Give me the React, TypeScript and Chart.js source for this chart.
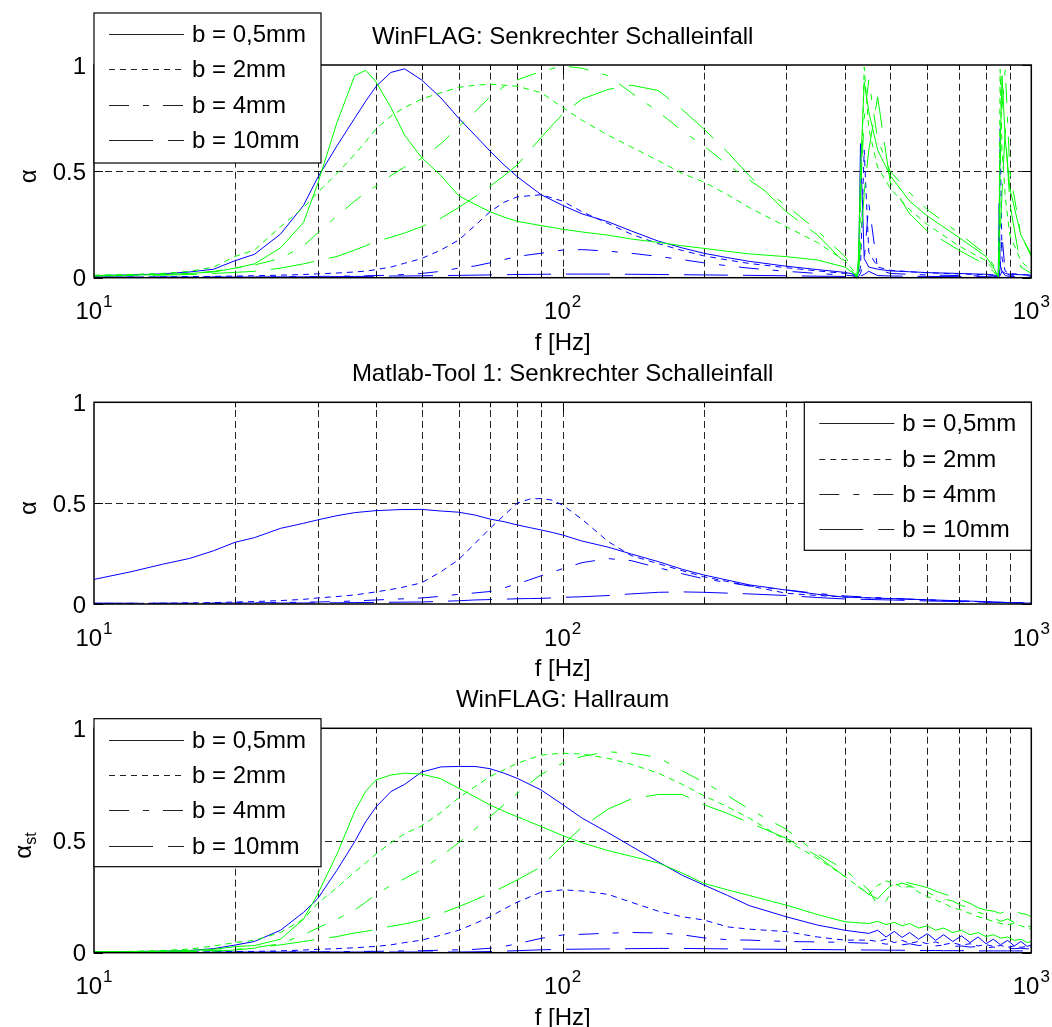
import React, { useEffect, useRef } from "react";
import { Chart, registerables } from "chart.js";

Chart.register(...registerables);

const FONT = '"Liberation Sans", Arial, Helvetica, sans-serif';
const W = 1052;
const H = 1027;

// ---------------- data: panel 1 (WinFLAG, normal incidence) ----------------
const freqP1 = [10, 12, 14, 16, 18, 20, 22, 25, 28, 30, 33, 36, 38, 40, 43, 46, 50, 55, 60, 65, 70, 75, 80, 90, 100, 110, 125, 140, 160, 180, 200, 225, 250, 300, 350, 400, 415, 424, 428, 432, 440, 450, 470, 500, 550, 600, 700, 800, 830, 850, 854, 858, 866, 880, 900, 950, 1000];
const p1BlueB05 = [0.01, 0.013, 0.018, 0.027, 0.04, 0.08, 0.11, 0.205, 0.34, 0.47, 0.62, 0.75, 0.83, 0.9, 0.965, 0.982, 0.93, 0.845, 0.75, 0.67, 0.595, 0.53, 0.475, 0.39, 0.34, 0.3, 0.263, 0.22, 0.172, 0.14, 0.115, 0.094, 0.077, 0.054, 0.038, 0.025, 0.018, 0.008, 0.02, 0.63, 0.09, 0.05, 0.04, 0.032, 0.028, 0.024, 0.02, 0.016, 0.013, 0.008, 0.35, 0.06, 0.03, 0.02, 0.016, 0.014, 0.012];
const p1BlueB2 = [0.003, 0.003, 0.004, 0.005, 0.006, 0.008, 0.009, 0.012, 0.015, 0.018, 0.022, 0.027, 0.031, 0.038, 0.05, 0.068, 0.09, 0.13, 0.177, 0.245, 0.31, 0.355, 0.38, 0.39, 0.36, 0.31, 0.255, 0.205, 0.16, 0.128, 0.103, 0.083, 0.067, 0.047, 0.032, 0.02, 0.014, 0.006, 0.01, 0.05, 0.6, 0.12, 0.05, 0.035, 0.028, 0.023, 0.018, 0.014, 0.011, 0.006, 0.02, 0.7, 0.09, 0.03, 0.02, 0.015, 0.012];
const p1BlueB4 = [0.002, 0.002, 0.002, 0.003, 0.003, 0.003, 0.004, 0.004, 0.005, 0.006, 0.007, 0.008, 0.009, 0.01, 0.012, 0.015, 0.02, 0.03, 0.045, 0.055, 0.07, 0.085, 0.1, 0.115, 0.13, 0.132, 0.125, 0.115, 0.1, 0.085, 0.07, 0.056, 0.045, 0.03, 0.02, 0.012, 0.009, 0.004, 0.006, 0.02, 0.08, 0.35, 0.04, 0.02, 0.016, 0.013, 0.01, 0.008, 0.006, 0.004, 0.008, 0.05, 0.2, 0.02, 0.012, 0.01, 0.008];
const p1BlueB10 = [0.003, 0.003, 0.003, 0.003, 0.003, 0.003, 0.003, 0.004, 0.004, 0.005, 0.005, 0.006, 0.006, 0.007, 0.008, 0.008, 0.009, 0.01, 0.011, 0.012, 0.013, 0.014, 0.015, 0.016, 0.017, 0.017, 0.017, 0.016, 0.015, 0.014, 0.013, 0.012, 0.011, 0.009, 0.007, 0.006, 0.005, 0.003, 0.004, 0.008, 0.015, 0.03, 0.01, 0.008, 0.007, 0.006, 0.005, 0.005, 0.004, 0.003, 0.004, 0.01, 0.03, 0.01, 0.006, 0.005, 0.005];
const p1GreenB05 = [0.01, 0.012, 0.015, 0.02, 0.027, 0.045, 0.065, 0.14, 0.26, 0.44, 0.73, 0.95, 0.975, 0.92, 0.8, 0.67, 0.565, 0.48, 0.385, 0.345, 0.31, 0.285, 0.265, 0.245, 0.228, 0.215, 0.2, 0.182, 0.166, 0.15, 0.138, 0.124, 0.112, 0.099, 0.083, 0.05, 0.025, 0.003, 0.1, 0.5, 0.92, 0.78, 0.6, 0.48, 0.36, 0.29, 0.19, 0.1, 0.05, 0.005, 0.2, 0.6, 0.95, 0.65, 0.42, 0.2, 0.11];
const p1GreenB2 = [0.012, 0.015, 0.02, 0.03, 0.05, 0.1, 0.13, 0.24, 0.33, 0.4, 0.49, 0.58, 0.64, 0.7, 0.76, 0.8, 0.84, 0.87, 0.895, 0.905, 0.91, 0.905, 0.9, 0.87, 0.8, 0.74, 0.67, 0.615, 0.55, 0.49, 0.45, 0.39, 0.33, 0.24, 0.165, 0.08, 0.04, 0.005, 0.05, 0.3, 0.99, 0.7, 0.52, 0.42, 0.32, 0.25, 0.15, 0.08, 0.04, 0.01, 0.3, 0.98, 0.6, 0.38, 0.2, 0.08, 0.03];
const p1GreenB4 = [0.01, 0.012, 0.015, 0.02, 0.03, 0.045, 0.06, 0.09, 0.15, 0.21, 0.29, 0.36, 0.4, 0.43, 0.48, 0.52, 0.56, 0.63, 0.71, 0.78, 0.85, 0.9, 0.93, 0.97, 0.995, 0.985, 0.95, 0.87, 0.78, 0.69, 0.62, 0.53, 0.46, 0.34, 0.22, 0.1, 0.05, 0.004, 0.08, 0.4, 0.75, 0.93, 0.65, 0.5, 0.4, 0.32, 0.21, 0.11, 0.06, 0.01, 0.1, 0.5, 0.8, 0.98, 0.5, 0.2, 0.1];
const p1GreenB10 = [0.008, 0.01, 0.012, 0.015, 0.02, 0.025, 0.03, 0.045, 0.065, 0.08, 0.1, 0.13, 0.15, 0.17, 0.19, 0.21, 0.24, 0.28, 0.33, 0.38, 0.43, 0.48, 0.53, 0.66, 0.77, 0.84, 0.885, 0.905, 0.88, 0.79, 0.7, 0.59, 0.48, 0.31, 0.2, 0.07, 0.03, 0.002, 0.03, 0.15, 0.4, 0.6, 0.85, 0.45, 0.3, 0.22, 0.13, 0.06, 0.03, 0.005, 0.05, 0.2, 0.4, 0.7, 0.35, 0.05, 0.02];

// ---------------- data: panel 2 (Matlab-Tool 1) ----------------
const freqP2 = [10, 12, 14, 16, 18, 20, 22, 25, 28, 30, 33, 36, 40, 45, 50, 55, 60, 65, 70, 75, 80, 85, 90, 95, 100, 110, 125, 140, 160, 180, 200, 250, 300, 350, 400, 500, 600, 700, 800, 900, 1000];
const p2BlueB05 = [0.122, 0.16, 0.197, 0.226, 0.264, 0.306, 0.329, 0.375, 0.4, 0.417, 0.438, 0.453, 0.463, 0.468, 0.469, 0.461, 0.455, 0.441, 0.421, 0.408, 0.392, 0.379, 0.367, 0.355, 0.342, 0.312, 0.282, 0.248, 0.21, 0.172, 0.144, 0.095, 0.069, 0.048, 0.034, 0.027, 0.021, 0.016, 0.012, 0.007, 0.004];
const p2BlueB2 = [0.003, 0.003, 0.004, 0.005, 0.007, 0.01, 0.012, 0.017, 0.023, 0.03, 0.037, 0.045, 0.06, 0.08, 0.105, 0.16, 0.22, 0.3, 0.375, 0.44, 0.5, 0.52, 0.523, 0.515, 0.49, 0.42, 0.31, 0.24, 0.2, 0.165, 0.135, 0.09, 0.053, 0.042, 0.035, 0.027, 0.02, 0.015, 0.01, 0.007, 0.004];
const p2BlueB4 = [0.003, 0.003, 0.003, 0.004, 0.004, 0.005, 0.006, 0.007, 0.009, 0.01, 0.012, 0.015, 0.02, 0.025, 0.03, 0.038, 0.048, 0.055, 0.062, 0.08, 0.1, 0.12, 0.14, 0.158, 0.175, 0.205, 0.225, 0.215, 0.18, 0.15, 0.125, 0.09, 0.07, 0.052, 0.04, 0.028, 0.02, 0.014, 0.01, 0.007, 0.004];
const p2BlueB10 = [0.004, 0.004, 0.004, 0.004, 0.004, 0.005, 0.005, 0.005, 0.005, 0.006, 0.006, 0.007, 0.008, 0.009, 0.01, 0.013, 0.016, 0.02, 0.022, 0.024, 0.026, 0.027, 0.028, 0.03, 0.033, 0.036, 0.042, 0.05, 0.058, 0.06, 0.058, 0.05, 0.042, 0.032, 0.025, 0.02, 0.015, 0.012, 0.009, 0.006, 0.004];

// ---------------- data: panel 3 (WinFLAG, reverberation room) ----------------
const freqP3 = [10, 12, 14, 16, 18, 20, 22, 25, 28, 30, 33, 36, 38, 40, 43, 46, 50, 55, 60, 65, 70, 75, 80, 90, 100, 110, 125, 140, 160, 180, 200, 225, 250, 300, 350, 400, 450, 470, 490, 510, 530, 550, 575, 600, 625, 650, 680, 710, 740, 770, 800, 830, 860, 890, 920, 950, 980, 1000];
const p3BlueB05 = [0.004, 0.005, 0.007, 0.01, 0.018, 0.034, 0.05, 0.1, 0.18, 0.24, 0.368, 0.495, 0.584, 0.65, 0.718, 0.75, 0.805, 0.828, 0.83, 0.83, 0.82, 0.8, 0.777, 0.725, 0.66, 0.6, 0.535, 0.475, 0.405, 0.345, 0.302, 0.255, 0.21, 0.16, 0.123, 0.1, 0.086, 0.1, 0.07, 0.095, 0.068, 0.09, 0.06, 0.085, 0.055, 0.08, 0.05, 0.075, 0.045, 0.07, 0.04, 0.06, 0.035, 0.055, 0.03, 0.05, 0.028, 0.035];
const p3BlueB2 = [0.002, 0.002, 0.003, 0.003, 0.004, 0.005, 0.006, 0.008, 0.012, 0.015, 0.018, 0.022, 0.025, 0.028, 0.035, 0.045, 0.056, 0.078, 0.1, 0.13, 0.16, 0.195, 0.225, 0.27, 0.28, 0.275, 0.26, 0.225, 0.185, 0.16, 0.146, 0.115, 0.105, 0.094, 0.07, 0.056, 0.056, 0.05, 0.06, 0.045, 0.055, 0.042, 0.05, 0.04, 0.048, 0.036, 0.044, 0.034, 0.04, 0.03, 0.036, 0.028, 0.032, 0.025, 0.03, 0.024, 0.028, 0.025];
const p3BlueB4 = [0.002, 0.002, 0.002, 0.002, 0.002, 0.003, 0.003, 0.003, 0.004, 0.004, 0.005, 0.005, 0.006, 0.006, 0.007, 0.008, 0.009, 0.011, 0.013, 0.015, 0.02, 0.028, 0.04, 0.064, 0.079, 0.082, 0.087, 0.09, 0.088, 0.08, 0.066, 0.058, 0.056, 0.05, 0.048, 0.046, 0.042, 0.045, 0.038, 0.042, 0.035, 0.04, 0.032, 0.036, 0.03, 0.034, 0.028, 0.03, 0.025, 0.028, 0.022, 0.025, 0.02, 0.022, 0.018, 0.02, 0.017, 0.019];
const p3BlueB10 = [0.003, 0.003, 0.003, 0.003, 0.003, 0.003, 0.003, 0.003, 0.003, 0.003, 0.003, 0.003, 0.003, 0.003, 0.003, 0.003, 0.003, 0.003, 0.003, 0.004, 0.005, 0.007, 0.009, 0.013, 0.015, 0.016, 0.017, 0.018, 0.019, 0.019, 0.018, 0.017, 0.016, 0.015, 0.014, 0.013, 0.012, 0.012, 0.011, 0.011, 0.011, 0.01, 0.01, 0.01, 0.01, 0.009, 0.009, 0.009, 0.009, 0.008, 0.008, 0.008, 0.008, 0.008, 0.008, 0.008, 0.008, 0.008];
const p3GreenB05 = [0.004, 0.005, 0.007, 0.01, 0.015, 0.027, 0.032, 0.06, 0.15, 0.26, 0.44, 0.63, 0.72, 0.77, 0.792, 0.8, 0.796, 0.775, 0.733, 0.695, 0.658, 0.63, 0.606, 0.562, 0.522, 0.49, 0.455, 0.43, 0.4, 0.355, 0.309, 0.28, 0.255, 0.212, 0.17, 0.138, 0.13, 0.14, 0.125, 0.135, 0.12, 0.13, 0.11, 0.12, 0.1, 0.11, 0.09, 0.1, 0.08, 0.09, 0.072, 0.08, 0.065, 0.07, 0.055, 0.06, 0.045, 0.05];
const p3GreenB2 = [0.004, 0.006, 0.01, 0.016, 0.03, 0.045, 0.055, 0.09, 0.15, 0.22, 0.29, 0.36, 0.4, 0.44, 0.49, 0.53, 0.565, 0.625, 0.69, 0.74, 0.785, 0.815, 0.844, 0.881, 0.889, 0.885, 0.866, 0.84, 0.8, 0.75, 0.7, 0.65, 0.6, 0.5, 0.42, 0.34, 0.26, 0.3, 0.32, 0.31, 0.29, 0.295, 0.27, 0.25, 0.235, 0.22, 0.2, 0.19, 0.175, 0.16, 0.15, 0.14, 0.13, 0.125, 0.13, 0.12, 0.11, 0.105];
const p3GreenB4 = [0.003, 0.004, 0.005, 0.007, 0.01, 0.015, 0.022, 0.04, 0.08, 0.11, 0.15, 0.19, 0.225, 0.26, 0.3, 0.33, 0.37, 0.43, 0.49, 0.55, 0.606, 0.66, 0.71, 0.795, 0.845, 0.875, 0.895, 0.89, 0.87, 0.81, 0.76, 0.7, 0.64, 0.55, 0.44, 0.37, 0.28, 0.21, 0.23, 0.3, 0.31, 0.3, 0.28, 0.27, 0.25, 0.24, 0.23, 0.21, 0.2, 0.18, 0.17, 0.155, 0.14, 0.15, 0.135, 0.125, 0.12, 0.115];
const p3GreenB10 = [0.002, 0.003, 0.004, 0.005, 0.007, 0.012, 0.02, 0.035, 0.05, 0.06, 0.072, 0.088, 0.095, 0.104, 0.118, 0.128, 0.145, 0.175, 0.205, 0.235, 0.264, 0.295, 0.324, 0.383, 0.48, 0.56, 0.64, 0.685, 0.705, 0.705, 0.66, 0.62, 0.58, 0.51, 0.43, 0.34, 0.26, 0.24, 0.28, 0.31, 0.32, 0.31, 0.3, 0.29, 0.275, 0.262, 0.25, 0.235, 0.22, 0.2, 0.19, 0.185, 0.175, 0.19, 0.185, 0.175, 0.17, 0.16];

// ---------------- labels / ticks ----------------
const seriesLabels = ["b = 0,5mm", "b = 2mm", "b = 4mm", "b = 10mm"];
const yTickValues = [0, 0.5, 1];
const yTickLabels = ["0", "0.5", "1"];
const xDecadeValues = [10, 100, 1000];
const xDecadeExponents = ["1", "2", "3"];
const xGridValues = [20, 30, 40, 50, 60, 70, 80, 90, 100, 200, 300, 400, 500, 600, 700, 800, 900];
const yGridValues = [0.5];
const xLabelText = "f [Hz]";

const BLUE = "#0000ff";
const GREEN = "#00ff00";
const DASHES: number[][] = [[], [6, 5], [20, 14, 6, 14], [44, 15]];

type Panel = {
  key: string;
  title: string;
  yLabel: string;
  ySub: string;
  top: number;
  bottom: number;
  legend: { x: number; y: number; w: number; h: number };
  freq: number[];
  series: { values: number[]; color: string; style: number }[];
};

const PLOT_LEFT = 94;
const PLOT_RIGHT = 1031.3;

const panels: Panel[] = [
  {
    key: "p1",
    title: "WinFLAG: Senkrechter Schalleinfall",
    yLabel: "α",
    ySub: "",
    top: 65,
    bottom: 277.7,
    legend: { x: 94, y: 13, w: 227, h: 150 },
    freq: freqP1,
    series: [
      { values: p1GreenB05, color: GREEN, style: 0 },
      { values: p1GreenB2, color: GREEN, style: 1 },
      { values: p1GreenB4, color: GREEN, style: 2 },
      { values: p1GreenB10, color: GREEN, style: 3 },
      { values: p1BlueB05, color: BLUE, style: 0 },
      { values: p1BlueB2, color: BLUE, style: 1 },
      { values: p1BlueB4, color: BLUE, style: 2 },
      { values: p1BlueB10, color: BLUE, style: 3 },
    ],
  },
  {
    key: "p2",
    title: "Matlab-Tool 1: Senkrechter Schalleinfall",
    yLabel: "α",
    ySub: "",
    top: 402.3,
    bottom: 604,
    legend: { x: 804.3, y: 402.3, w: 227, h: 148 },
    freq: freqP2,
    series: [
      { values: p2BlueB05, color: BLUE, style: 0 },
      { values: p2BlueB2, color: BLUE, style: 1 },
      { values: p2BlueB4, color: BLUE, style: 2 },
      { values: p2BlueB10, color: BLUE, style: 3 },
    ],
  },
  {
    key: "p3",
    title: "WinFLAG: Hallraum",
    yLabel: "α",
    ySub: "st",
    top: 728.3,
    bottom: 952.7,
    legend: { x: 94, y: 718.7, w: 227, h: 148 },
    freq: freqP3,
    series: [
      { values: p3GreenB05, color: GREEN, style: 0 },
      { values: p3GreenB2, color: GREEN, style: 1 },
      { values: p3GreenB4, color: GREEN, style: 2 },
      { values: p3GreenB10, color: GREEN, style: 3 },
      { values: p3BlueB05, color: BLUE, style: 0 },
      { values: p3BlueB2, color: BLUE, style: 1 },
      { values: p3BlueB4, color: BLUE, style: 2 },
      { values: p3BlueB10, color: BLUE, style: 3 },
    ],
  },
];

function makeDecor(p: Panel) {
  return {
    id: "decor_" + p.key,
    beforeDatasetsDraw(chart: any) {
      const { ctx, chartArea: a, scales } = chart;
      const xs = scales.x;
      const ys = scales.y;
      ctx.save();
      ctx.strokeStyle = "rgba(0,0,0,0.85)";
      ctx.lineWidth = 1;
      ctx.setLineDash([7, 4]);
      for (const f of xGridValues) {
        const x = Math.round(xs.getPixelForValue(f)) + 0.5;
        ctx.beginPath();
        ctx.moveTo(x, a.bottom);
        ctx.lineTo(x, a.top);
        ctx.stroke();
      }
      for (const v of yGridValues) {
        const y = Math.round(ys.getPixelForValue(v)) + 0.5;
        ctx.beginPath();
        ctx.moveTo(a.left, y);
        ctx.lineTo(a.right, y);
        ctx.stroke();
      }
      ctx.restore();
    },
    afterDraw(chart: any) {
      const { ctx, chartArea: a, scales } = chart;
      const xs = scales.x;
      const ys = scales.y;
      ctx.save();
      ctx.setLineDash([]);
      ctx.fillStyle = "#000";
      ctx.strokeStyle = "#000";

      // tick marks (inside)
      ctx.lineWidth = 1;
      for (const v of yTickValues) {
        const y = Math.round(ys.getPixelForValue(v)) + 0.5;
        ctx.beginPath();
        ctx.moveTo(a.left, y);
        ctx.lineTo(a.left + 9, y);
        ctx.moveTo(a.right, y);
        ctx.lineTo(a.right - 9, y);
        ctx.stroke();
      }
      for (const f of xGridValues) {
        const x = Math.round(xs.getPixelForValue(f)) + 0.5;
        const len = xDecadeValues.includes(f) ? 9 : 5;
        ctx.beginPath();
        ctx.moveTo(x, a.bottom);
        ctx.lineTo(x, a.bottom - len);
        ctx.moveTo(x, a.top);
        ctx.lineTo(x, a.top + len);
        ctx.stroke();
      }

      // axes box
      ctx.lineWidth = 1.5;
      ctx.strokeRect(a.left, a.top, a.right - a.left, a.bottom - a.top);

      // y tick labels
      ctx.font = `24px ${FONT}`;
      ctx.textAlign = "right";
      ctx.textBaseline = "middle";
      yTickValues.forEach((v, i) => {
        ctx.fillText(yTickLabels[i], 86, ys.getPixelForValue(v) + 2);
      });

      // x tick labels 10^n
      ctx.textAlign = "left";
      ctx.textBaseline = "alphabetic";
      const base = a.bottom + 41.5;
      xDecadeValues.forEach((v, i) => {
        const px = xs.getPixelForValue(v);
        ctx.font = `24px ${FONT}`;
        const wb = ctx.measureText("10").width;
        ctx.font = `17px ${FONT}`;
        const we = ctx.measureText(xDecadeExponents[i]).width;
        const x0 = px - (wb + we + 1) / 2;
        ctx.font = `24px ${FONT}`;
        ctx.fillText("10", x0, base);
        ctx.font = `17px ${FONT}`;
        ctx.fillText(xDecadeExponents[i], x0 + wb + 1, base - 12);
      });

      // x label
      ctx.font = `24px ${FONT}`;
      ctx.textAlign = "center";
      const cx = (a.left + a.right) / 2;
      ctx.fillText(xLabelText, cx, a.bottom + 72);

      // title
      ctx.fillText(p.title, cx, a.top - 21);

      // y label (rotated)
      ctx.save();
      const midY = (a.top + a.bottom) / 2 + 5;
      ctx.translate(p.ySub ? 30.5 : 35.6, midY);
      ctx.rotate(-Math.PI / 2);
      ctx.textAlign = "left";
      ctx.font = `24px ${FONT}`;
      const w1 = ctx.measureText(p.yLabel).width;
      let w2 = 0;
      if (p.ySub) {
        ctx.font = `16px ${FONT}`;
        w2 = ctx.measureText(p.ySub).width;
      }
      const start = -(w1 + w2) / 2;
      ctx.font = `24px ${FONT}`;
      ctx.fillText(p.yLabel, start, 0);
      if (p.ySub) {
        ctx.font = `16px ${FONT}`;
        ctx.fillText(p.ySub, start + w1, 5);
      }
      ctx.restore();

      // legend
      const L = p.legend;
      ctx.fillStyle = "#fff";
      ctx.fillRect(L.x, L.y, L.w, L.h);
      ctx.strokeStyle = "#000";
      ctx.lineWidth = 1.2;
      ctx.strokeRect(L.x, L.y, L.w, L.h);
      ctx.fillStyle = "#000";
      ctx.font = `24px ${FONT}`;
      ctx.textAlign = "left";
      ctx.textBaseline = "middle";
      seriesLabels.forEach((lab, i) => {
        const ry = Math.round(L.y + 21 + i * 35.3) + 0.5;
        ctx.save();
        ctx.lineWidth = 1;
        ctx.strokeStyle = "#222";
        ctx.setLineDash(DASHES[i]);
        ctx.beginPath();
        ctx.moveTo(L.x + 15, ry);
        ctx.lineTo(L.x + 90, ry);
        ctx.stroke();
        ctx.restore();
        ctx.fillText(lab, L.x + 98, ry + 1);
      });

      ctx.restore();
    },
  };
}

function buildChart(canvas: HTMLCanvasElement, p: Panel) {
  const datasets = p.series.map((s, i) => ({
    label: p.key + "_" + i,
    data: p.freq.map((f, j) => ({ x: f, y: s.values[j] })),
    borderColor: s.color,
    backgroundColor: s.color,
    borderWidth: 1,
    borderDash: DASHES[s.style],
    pointRadius: 0,
    pointHoverRadius: 0,
    showLine: true,
    fill: false,
    tension: 0,
  }));
  return new Chart(canvas, {
    type: "scatter",
    data: { datasets },
    options: {
      animation: false,
      responsive: false,
      devicePixelRatio: 1,
      events: [],
      layout: {
        padding: { left: PLOT_LEFT, right: W - PLOT_RIGHT, top: p.top, bottom: H - p.bottom },
      },
      plugins: {
        legend: { display: false },
        tooltip: { enabled: false },
        title: { display: false },
      },
      scales: {
        x: {
          type: "logarithmic",
          min: 10,
          max: 1000,
          grid: { display: false, drawTicks: false },
          border: { display: false },
          ticks: { display: false },
          afterFit: (s: any) => {
            s.height = 0;
          },
        },
        y: {
          type: "linear",
          min: 0,
          max: 1,
          grid: { display: false, drawTicks: false },
          border: { display: false },
          ticks: { display: false },
          afterFit: (s: any) => {
            s.width = 0;
          },
        },
      },
    } as any,
    plugins: [makeDecor(p)],
  });
}

export default function App() {
  const r1 = useRef<HTMLCanvasElement>(null);
  const r2 = useRef<HTMLCanvasElement>(null);
  const r3 = useRef<HTMLCanvasElement>(null);

  useEffect(() => {
    const refs = [r1, r2, r3];
    const charts = panels.map((p, i) => buildChart(refs[i].current as HTMLCanvasElement, p));
    return () => charts.forEach((c) => c.destroy());
  }, []);

  const cs: React.CSSProperties = { position: "absolute", left: 0, top: 0, width: W, height: H };
  return (
    <div style={{ position: "absolute", left: 0, top: 0, width: W, height: H, background: "#fff", overflow: "hidden" }}>
      <canvas ref={r1} width={W} height={H} style={cs} />
      <canvas ref={r2} width={W} height={H} style={cs} />
      <canvas ref={r3} width={W} height={H} style={cs} />
    </div>
  );
}
